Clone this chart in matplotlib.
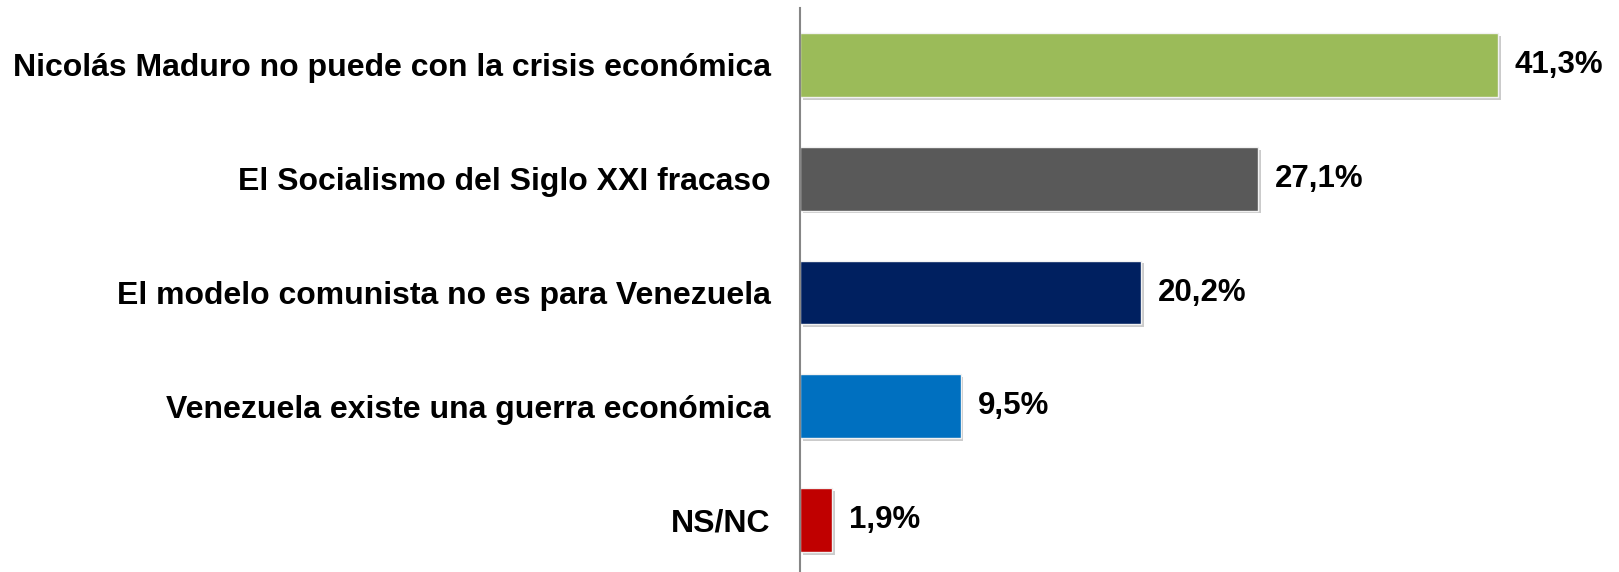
import matplotlib.pyplot as plt
import matplotlib.patheffects as pe

categories = [
    "Nicolás Maduro no puede con la crisis económica",
    "El Socialismo del Siglo XXI fracaso",
    "El modelo comunista no es para Venezuela",
    "Venezuela existe una guerra económica",
    "NS/NC",
]
values = [41.3, 27.1, 20.2, 9.5, 1.9]
value_labels = ["41,3%", "27,1%", "20,2%", "9,5%", "1,9%"]
colors = ["#9bbb59", "#595959", "#002060", "#0070c0", "#c00000"]

plt.rcParams['font.family'] = ['Liberation Sans', 'DejaVu Sans']

W, H = 1619, 572
fig = plt.figure(figsize=(W / 100, H / 100), dpi=100)
x0 = 800
px_per = 16.9
xmax = (W - x0) / px_per
ax = fig.add_axes([x0 / W, 0, 1 - x0 / W, 1 - 8 / H])

ypos = list(range(len(values)))
bars = ax.barh(ypos, values, height=0.56, color=colors, edgecolor="#f2f2f2", linewidth=1.0)
for b in bars:
    b.set_path_effects([pe.SimplePatchShadow(offset=(2, -2), shadow_rgbFace="#999999", alpha=0.5), pe.Normal()])

for y, v, lab in zip(ypos, values, value_labels):
    ax.text(v + 1.0, y, lab, va="center", ha="left", fontsize=22.5, fontweight="bold")

ax.set_xlim(0, xmax)
ax.set_ylim(4.457, -0.501)
ax.set_yticks(ypos)
ax.set_yticklabels(categories, fontsize=23, fontweight="bold")
ax.tick_params(axis="y", length=0, pad=21)
ax.set_xticks([])
for s in ["top", "right", "bottom"]:
    ax.spines[s].set_visible(False)
ax.spines["left"].set_color("#868686")
ax.spines["left"].set_linewidth(1.5)

fig.savefig("out.png", dpi=100)
